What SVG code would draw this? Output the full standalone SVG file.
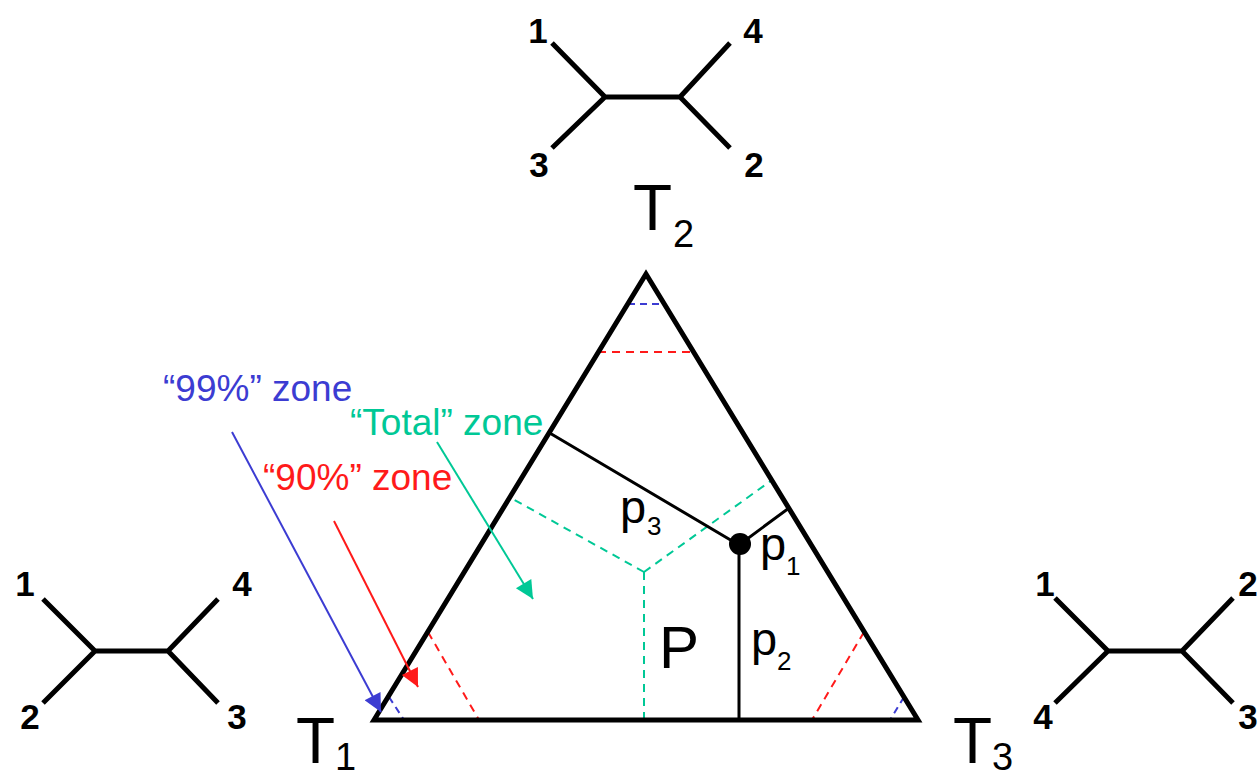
<svg xmlns="http://www.w3.org/2000/svg" width="1259" height="779" viewBox="0 0 1259 779">
<defs>
<style>
.tree{stroke:#000;stroke-width:5;fill:none;stroke-linecap:butt}
.lbl{font-family:"Liberation Sans",Arial,sans-serif;font-weight:bold;font-size:35px;fill:#000;text-anchor:middle}
.tx{font-family:"Liberation Sans",Arial,sans-serif;fill:#000}
.tri{stroke:#000;stroke-width:5;fill:none;stroke-linejoin:miter}
.inner{stroke:#000;stroke-width:3;fill:none}
.dg{stroke:#00c896;stroke-width:2;stroke-dasharray:8,6;fill:none}
.dr{stroke:#ff1a1a;stroke-width:2;stroke-dasharray:8,6;fill:none}
.db{stroke:#3c3cd2;stroke-width:2;stroke-dasharray:7,5;fill:none}
.zone{font-family:"Liberation Sans",Arial,sans-serif;font-size:37px}
</style>
<marker id="ab" viewBox="0 0 10 10" refX="10" refY="5" markerWidth="12" markerHeight="9" markerUnits="strokeWidth" orient="auto"><path d="M0,0 L10,5 L0,10 z" fill="#3c3cd2"/></marker>
<marker id="ar" viewBox="0 0 10 10" refX="10" refY="5" markerWidth="12" markerHeight="9" markerUnits="strokeWidth" orient="auto"><path d="M0,0 L10,5 L0,10 z" fill="#ff1a1a"/></marker>
<marker id="ag" viewBox="0 0 10 10" refX="10" refY="5" markerWidth="12" markerHeight="9" markerUnits="strokeWidth" orient="auto"><path d="M0,0 L10,5 L0,10 z" fill="#00c896"/></marker>
</defs>
<rect width="1259" height="779" fill="#fff"/>

<g id="tree-T2">
<path class="tree" d="M552,43 L605,97 L552,148 M605,97 L680,97 M730,43 L680,97 L730,148"/>
<text class="lbl" x="538" y="43">1</text>
<text class="lbl" x="753" y="43">4</text>
<text class="lbl" x="539" y="177">3</text>
<text class="lbl" x="754" y="177">2</text>
</g>
<g id="tree-T1">
<path class="tree" d="M43,599 L95,651 L43,703 M95,651 L168,651 M218,599 L168,651 L218,703"/>
<text class="lbl" x="25" y="596">1</text>
<text class="lbl" x="242" y="596">4</text>
<text class="lbl" x="30" y="729">2</text>
<text class="lbl" x="237" y="729">3</text>
</g>
<g id="tree-T3">
<path class="tree" d="M1055,598 L1108,651 L1055,703 M1108,651 L1182,651 M1233,598 L1182,651 L1233,703"/>
<text class="lbl" x="1045" y="596">1</text>
<text class="lbl" x="1248" y="596">2</text>
<text class="lbl" x="1043" y="729">4</text>
<text class="lbl" x="1248" y="729">3</text>
</g>

<g id="vertex-labels" class="tx">
<text x="633" y="230" font-size="64">T</text><text x="673" y="247" font-size="38">2</text>
<text x="296" y="763" font-size="64">T</text><text x="335" y="770" font-size="38">1</text>
<text x="953" y="763" font-size="64">T</text><text x="992" y="770" font-size="38">3</text>
</g>

<g id="triangle">
<path class="db" d="M628,304 L664,304 M389,697 L404,720 M904,697 L890,720"/>
<path class="dr" d="M598,352 L694,352 M428,632 L479,720 M864,632 L812,720"/>
<path class="dg" d="M644,572 L644,720 M644,572 L511,498 M644,572 L772,480"/>
<path class="inner" d="M739,545 L548,432 M739,545 L789,508 M739,545 L739,720"/>
<circle cx="740" cy="544" r="11" fill="#000"/>
<path class="tri" d="M374,720 L646,274 L918,720 Z"/>
</g>

<g id="inner-labels" class="tx">
<text x="620" y="523" font-size="47">p</text><text x="647" y="535" font-size="26">3</text>
<text x="760" y="560" font-size="47">p</text><text x="786" y="575" font-size="26">1</text>
<text x="751" y="655" font-size="47">p</text><text x="777" y="670" font-size="26">2</text>
<text x="659" y="668" font-size="60">P</text>
</g>

<g id="connectors">
<line x1="232" y1="432" x2="381" y2="712" stroke="#3c3cd2" stroke-width="2" marker-end="url(#ab)"/>
<line x1="334" y1="521" x2="418" y2="687" stroke="#ff1a1a" stroke-width="2" marker-end="url(#ar)"/>
<line x1="437" y1="442" x2="533" y2="599" stroke="#00c896" stroke-width="2" marker-end="url(#ag)"/>
</g>

<g id="zone-labels" class="zone">
<text x="163" y="401" fill="#3c3cd2">“99%” zone</text>
<text x="350" y="435" fill="#00c896">“Total” zone</text>
<text x="263" y="490" fill="#ff1a1a">“90%” zone</text>
</g>
</svg>
